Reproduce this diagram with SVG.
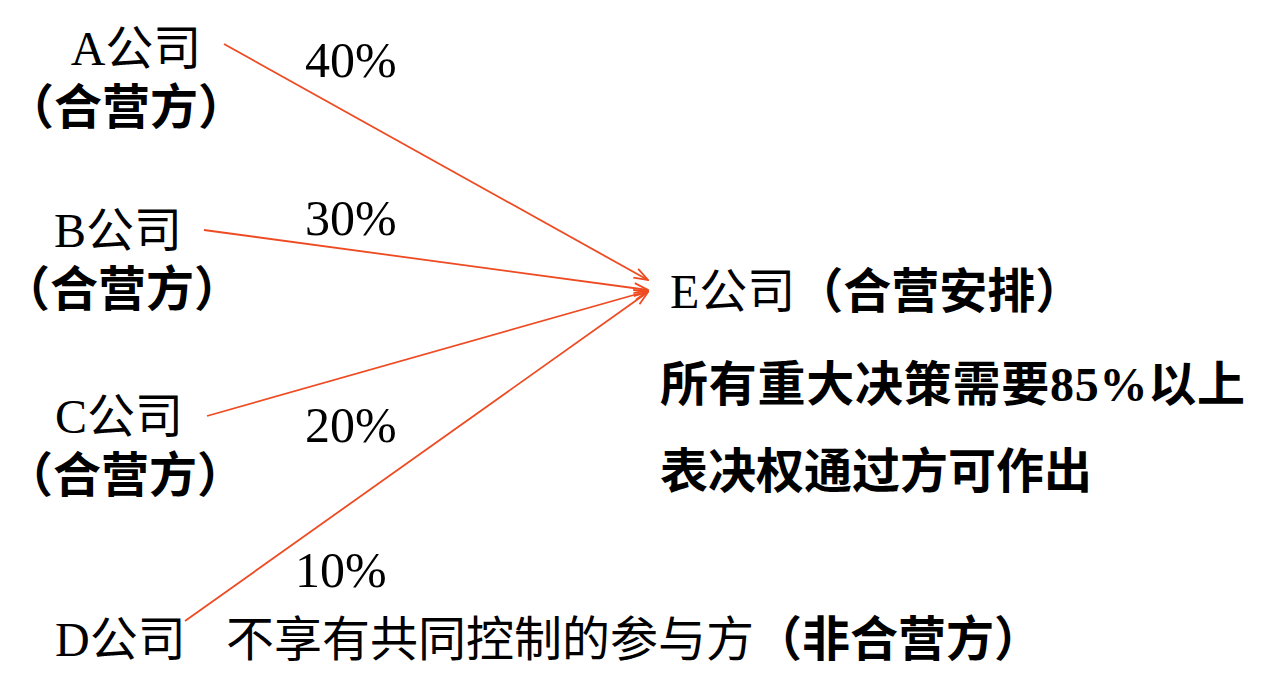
<svg xmlns="http://www.w3.org/2000/svg" width="1280" height="690" viewBox="0 0 1280 690">
<style>
text{font-family:"Liberation Serif","Noto Sans CJK SC",serif;font-size:48px;fill:#000}
.b{font-weight:bold}
.pct{font-size:50px}
.c{text-anchor:middle}
.conn{stroke:#EE4B22;stroke-width:1.8;fill:none;marker-end:url(#arr)}
</style>
<defs>
<marker id="arr" viewBox="0 0 16 12" refX="15" refY="6" markerWidth="16" markerHeight="12" orient="auto" markerUnits="userSpaceOnUse">
<path d="M1,1 L15,6 L1,11" fill="none" stroke="#EE4B22" stroke-width="1.8"/>
</marker>
</defs>
<rect width="1280" height="690" fill="#fff"/>
<g id="connectors">
<line class="conn" x1="224" y1="44" x2="648" y2="280"/>
<line class="conn" x1="204" y1="230" x2="648" y2="290"/>
<line class="conn" x1="207" y1="416" x2="648" y2="291"/>
<line class="conn" x1="185" y1="621" x2="648" y2="292"/>
</g>
<g id="labels">
<text class="pct" x="305" y="77">40%</text>
<text class="pct" x="305" y="235">30%</text>
<text class="pct" x="305" y="442">20%</text>
<text class="pct" x="295" y="587">10%</text>
</g>
<g id="nodeA">
<text class="c" x="136" y="65">A公司</text>
<text class="c b" x="126" y="124">（合营方）</text>
</g>
<g id="nodeB">
<text class="c" x="118" y="247">B公司</text>
<text class="c b" x="122" y="306">（合营方）</text>
</g>
<g id="nodeC">
<text class="c" x="119" y="433">C公司</text>
<text class="c b" x="125" y="492">（合营方）</text>
</g>
<g id="nodeD">
<text x="55" y="656">D公司</text>
<text x="226" y="656">不享有共同控制的参与方<tspan class="b">（非合营方）</tspan></text>
</g>
<g id="nodeE">
<text x="670" y="308">E公司<tspan class="b">（合营安排）</tspan></text>
<text class="b" x="660" y="401" textLength="585" lengthAdjust="spacing">所有重大决策需要85%以上</text>
<text class="b" x="660" y="488">表决权通过方可作出</text>
</g>
</svg>
